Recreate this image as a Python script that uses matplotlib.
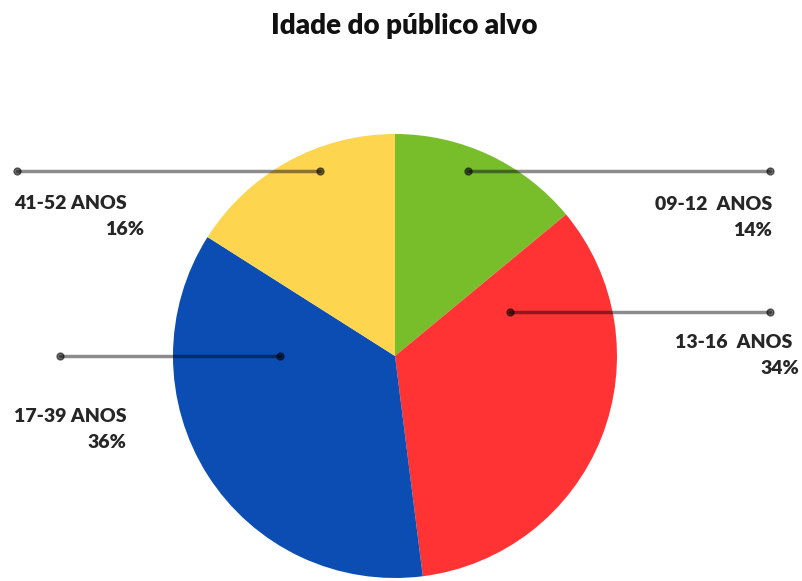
"""Idade do público alvo: pie chart with leader lines."""

import matplotlib as mpl
import matplotlib.pyplot as plt

mpl.rc('font', family=['Lato', 'DejaVu Sans'])

# Data, clockwise from the top.
labels = ['09-12  ANOS', '13-16  ANOS', '17-39 ANOS', '41-52 ANOS']
shares = [14, 34, 36, 16]
colors = ['#78BE2A', '#FF3333', '#0B4DB2', '#FDD54E']
title = 'Idade do público alvo'

W, H = 803, 581
# Pie layout in pixels (y measured from the top).
cx, cy, radius = 395, 356, 222
# Leader lines: (y, inner x, outer x).
leaders = [(171, 468, 770),
           (312, 510, 770),
           (356, 280, 60),
           (171, 320, 17)]
# Text anchors: (x of name, y of name, x of percent, y of percent, align name).
texts = [(772, 205, 772, 231, 'right'),
         (792, 342, 799, 369, 'right'),
         (14, 416, 126, 442, 'left'),
         (14, 204, 144, 230, 'left')]

fig = plt.figure(figsize=(W / 100, H / 100), dpi=100, facecolor='white')
ax = fig.add_axes([0, 0, 1, 1])

ax.pie(shares, colors=colors, startangle=90, counterclock=False,
       center=(cx, H - cy), radius=radius, frame=True,
       wedgeprops={'linewidth': 0})
ax.set_xlim(0, W)
ax.set_ylim(0, H)
ax.set_aspect('equal')
ax.axis('off')

for (y, x0, x1), (tx, ty, px, py, ha), lab, val in zip(
        leaders, texts, labels, shares):
    ax.plot([x0, x1], [H - y, H - y], color='black', alpha=0.45, lw=2.5,
            solid_capstyle='round', zorder=3)
    ax.plot([x0, x1], [H - y, H - y], 'o', color='black', alpha=0.55,
            ms=5, zorder=3)
    ax.text(tx, H - ty, lab, ha=ha, va='center', fontsize=14,
            fontweight='heavy', color='#262626')
    ax.text(px, H - py, f'{val}%', ha='right', va='center', fontsize=14,
            fontweight='heavy', color='#262626')

ax.text(W / 2 + 3, H - 26, title, ha='center', va='center', fontsize=20,
        fontweight='heavy', color='#111111')

fig.savefig('out.png', dpi=100, facecolor='white')
